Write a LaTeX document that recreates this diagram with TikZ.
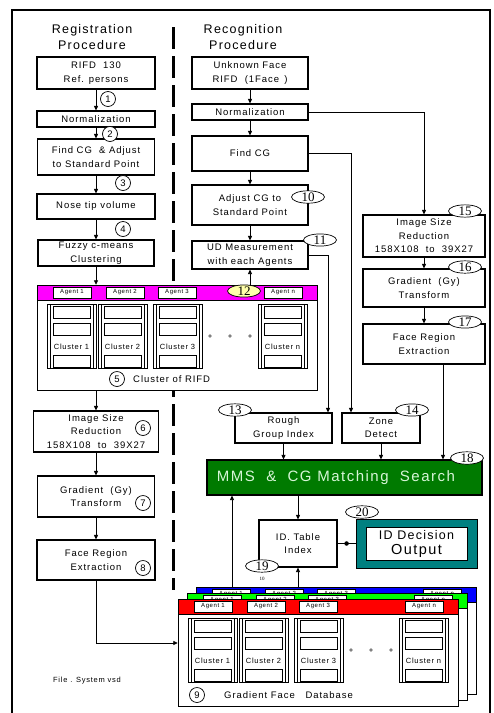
\documentclass[tikz,border=0pt]{standalone}
\usepackage{fontspec}
\setmainfont{Liberation Sans}[LetterSpace=10]
\newfontfamily\numfont{Liberation Serif}
\usetikzlibrary{arrows.meta,shapes.geometric}
\definecolor{mgreen}{RGB}{0,122,0}
\definecolor{mteal}{RGB}{0,128,128}
\definecolor{mmag}{RGB}{255,0,255}
\definecolor{myel}{RGB}{255,255,170}
\definecolor{mmstext}{RGB}{215,245,215}
\newcommand\fsz[1]{\fontsize{#1}{13.5pt}\selectfont}
\tikzset{
 box/.style={draw, line width=1.1pt, fill=white, align=center, inner sep=0pt, font=\fsz{9.5}},
 arr/.style={line width=0.8pt, -{Triangle[length=4.5pt,width=4pt]}},
 conn/.style={line width=0.8pt},
 circnum/.style={circle, draw, line width=0.7pt, inner sep=0pt, minimum size=15pt, font=\fsz{9.5}, fill=white},
 ellnum/.style={ellipse, draw, line width=0.7pt, fill=white, inner sep=0pt, minimum width=33pt, minimum height=12pt, font=\numfont\fontsize{13}{13}\selectfont},
 holder/.style={draw=none, inner sep=0pt},
 tiny/.style={inner sep=0pt},
 sepline/.style={line width=3pt, dash pattern=on 22pt off 7pt},
}
% #1 x, #2 y, #3 strip colour, #4 height, #5 name prefix
\newcommand\agentpanel[5]{%
 \begin{scope}[shift={(#1,#2)}]
  \fill[white] (0,0) rectangle (280,#4);
  \fill[#3] (0,0) rectangle (280,15);
  \draw[line width=1pt] (0,0) rectangle (280,#4);
  \draw[line width=0.6pt] (0,15) -- (280,15);
  \foreach \tx/\tl in {16/1,69/2,121/3,227/n} {
    \draw[fill=white,line width=0.8pt] (\tx,2) rectangle ++(38,11);
    \node[tiny,font=\fsz{6}] (#5tab\tl) at (\tx+19,7.5) {Agent \tl};
  }
  \foreach \cx/\cl in {10/1,61/2,116/3,221/n} {
    \draw[line width=0.8pt] (\cx,19) rectangle ++(49,64);
    \draw[line width=0.6pt] (\cx+3,19) rectangle ++(43,64);
    \foreach \ry in {2,19,51} {\draw[line width=0.8pt] (\cx+6,19+\ry) rectangle ++(37,12);}
    \node[tiny,font=\fsz{7.5}] (#5cl\cl) at (\cx+24.5,62) {Cluster \cl};
  }
  \foreach \dx in {173,193,213} {\fill[gray] (\dx,51) circle (1.8);}
 \end{scope}}
\begin{document}
\begin{tikzpicture}[x=1pt,y=-1pt]
\useasboundingbox (0,0) rectangle (494,713);
\fill[white] (0,0) rectangle (494,713);
% frame
\draw[line width=1.5pt] (12,716) -- (12,10) -- (490,10) -- (490,716);
% separator
\draw[sepline] (173,27) -- (173,590);
% headers
\node[align=center, font=\fontsize{12.5}{16}\selectfont] (hreg) at (92,37) {Registration\\Procedure};
\node[align=center, font=\fontsize{12.5}{16}\selectfont] (hrec) at (243,37) {Recognition\\Procedure};
% registration column
\node[box, minimum width=118pt, minimum height=32pt] (b1) at (96,73) {RIFD \ 130\\Ref. persons};
\node[box, minimum width=118pt, minimum height=16pt] (b2) at (96,119) {Normalization};
\node[box, minimum width=117pt, minimum height=36pt] (b3) at (96,157) {Find CG \ \& Adjust\\to Standard Point};
\node[box, minimum width=118pt, minimum height=25pt] (b4) at (96,206.5) {Nose tip volume};
\node[box, minimum width=116pt, minimum height=26pt] (b5) at (96,253) {Fuzzy c-means\\Clustering};
\draw[arr] (b1.south) -- (b2.north);
\draw[arr] (b2.south) -- (b3.north);
\draw[arr] (b3.south) -- (b4.north);
\draw[arr] (b4.south) -- (b5.north);
% cluster panel
\node[holder, minimum width=280pt, minimum height=105pt] (panel) at (177,337.5) {};
\agentpanel{37}{285}{mmag}{105}{p}
\node[circnum] (c5) at (117,379) {5};
\node[tiny, font=\fsz{9.5}, anchor=west] (plabel) at (133,379) {Cluster of RIFD};
\draw[arr] (b5.south) -- (b5.south |- panel.north);
% recognition column
\node[box, minimum width=116pt, minimum height=32pt] (r1) at (250,73) {Unknown Face\\RIFD \ (1Face \,)};
\node[box, minimum width=116pt, minimum height=16pt] (r2) at (250,112) {Normalization};
\node[box, minimum width=116pt, minimum height=35pt] (r3) at (250,153.5) {Find CG};
\node[box, minimum width=116pt, minimum height=40pt] (r4) at (250,205) {Adjust CG to\\Standard Point};
\node[box, minimum width=116pt, minimum height=28pt] (r5) at (250,255) {UD Measurement\\with each Agents};
\draw[arr] (r1.south) -- (r2.north);
\draw[arr] (r2.south) -- (r3.north);
\draw[arr] (r3.south) -- (r4.north);
\draw[arr] (r4.south) -- (r5.north);
\draw[arr] (r5.south |- panel.north) -- (r5.south);
% right column
\node[box, minimum width=122pt, minimum height=42pt] (b15) at (424,236) {Image Size\\Reduction\\158X108 \ to \ 39X27};
\node[box, minimum width=122pt, minimum height=38pt] (b16) at (424,288) {Gradient \ (Gy)\\Transform};
\node[box, minimum width=122pt, minimum height=40pt] (b17) at (424,344) {Face Region\\Extraction};
\draw[arr] (b15.south) -- (b16.north);
\draw[arr] (b16.south) -- (b17.north);
% middle boxes
\node[box, minimum width=97pt, minimum height=30pt] (rough) at (283.5,428) {Rough\\Group Index};
\node[box, minimum width=78pt, minimum height=30pt] (zone) at (381,428) {Zone\\Detect};
\node[box, fill=mgreen, minimum width=275pt, minimum height=35pt, text=mmstext, font=\fontsize{15}{18}\selectfont] (mms) at (344.5,477.5) {MMS \ \& \ CG Matching \ Search\hspace*{17pt}};
\node[box, minimum width=78pt, minimum height=47pt] (idt) at (298,543.5) {ID. Table\\Index};
\node[box, fill=mteal, line width=0.8pt, minimum width=121pt, minimum height=49pt] (idd) at (416.5,543.5) {};
\node[box, line width=1pt, minimum width=101pt, minimum height=33pt, font=\fontsize{12.5}{15}\selectfont] (iddin) at (416.5,543.5) {ID Decision\\{\fontsize{14.5}{15}\selectfont Output}};
% connectors
\draw[arr] (r2.east) -| (b15.north);
\draw[arr] (r3.east) -| ([xshift=-30pt]zone.north);
\draw[arr] (r5.east) -| ([xshift=44.5pt]rough.north);
\draw[arr] ([xshift=19pt]b17.south) -- ([xshift=19pt]b17.south |- mms.north);
\draw[arr] (rough.south) -- (rough.south |- mms.north);
\draw[arr] (zone.south) -- (zone.south |- mms.north);
\draw[arr] (idt.north |- mms.south) -- (idt.north);
\draw[conn] (idt.east) -- node[circle, fill, inner sep=1.6pt] (dotm) {} (idd.west);
% left lower column
\node[box, minimum width=125pt, minimum height=41pt] (l6) at (96,431.5) {Image Size\\Reduction\\158X108 \ to \ 39X27};
\node[box, minimum width=117pt, minimum height=41pt] (l7) at (96,496.5) {Gradient \ (Gy)\\Transform};
\node[box, minimum width=118pt, minimum height=40pt] (l8) at (96,560) {Face Region\\Extraction};
\draw[arr] (panel.south -| l6.north) -- (l6.north);
\draw[arr] (l6.south) -- (l7.north);
\draw[arr] (l7.south) -- (l8.north);
% database stack
\node[holder, minimum width=280pt, minimum height=107pt] (dbblue) at (336,640.5) {};
\node[holder, minimum width=280pt, minimum height=107pt] (dbgreen) at (327,646.5) {};
\node[holder, minimum width=280pt, minimum height=107pt] (dbfront) at (318,652.5) {};
\agentpanel{196}{587}{blue}{107}{q}
\agentpanel{187}{593}{green}{107}{g}
\agentpanel{178}{599}{red}{107}{f}
\node[circnum] (c9) at (197,695) {9};
\node[tiny, font=\fsz{9.5}, anchor=west] (dblabel) at (224,695) {Gradient Face \ \ Database};
\coordinate (dbup) at (232,587);
\draw[arr] (dbup) -- (dbup |- mms.south);
\draw[arr] (idt.south |- dbblue.north) -- (idt.south);
\draw[arr] (l8.south) |- ([yshift=9.5pt]dbfront.west);
% circled numbers
\node[circnum] (c1) at (108,99) {1};
\node[circnum] (c2) at (110,134) {2};
\node[circnum] (c3) at (123,183) {3};
\node[circnum] (c4) at (123,229) {4};
\node[circnum] (c6) at (143,428) {6};
\node[circnum] (c7) at (143,503) {7};
\node[circnum] (c8) at (143,568) {8};
% ellipse numbers
\node[ellnum] (e10) at (308,197) {10};
\node[ellnum] (e11) at (320,240) {11};
\node[ellnum, fill=myel] (e12) at (244,291) {12};
\node[ellnum] (e13) at (235,410) {13};
\node[ellnum] (e14) at (412,410) {14};
\node[ellnum] (e15) at (465,211) {15};
\node[ellnum] (e16) at (465,267) {16};
\node[ellnum] (e17) at (465,322) {17};
\node[ellnum] (e18) at (467,458) {18};
\node[ellnum] (e19) at (262,566) {19};
\node[ellnum] (e20) at (362,512) {20};
\node[tiny, font=\numfont\fontsize{5}{5}\selectfont] (tiny10) at (262,579) {10};
% file note
\node[tiny, font=\fsz{7.5}] (fnote) at (87,681) {File . System vsd};
\end{tikzpicture}
\end{document}
